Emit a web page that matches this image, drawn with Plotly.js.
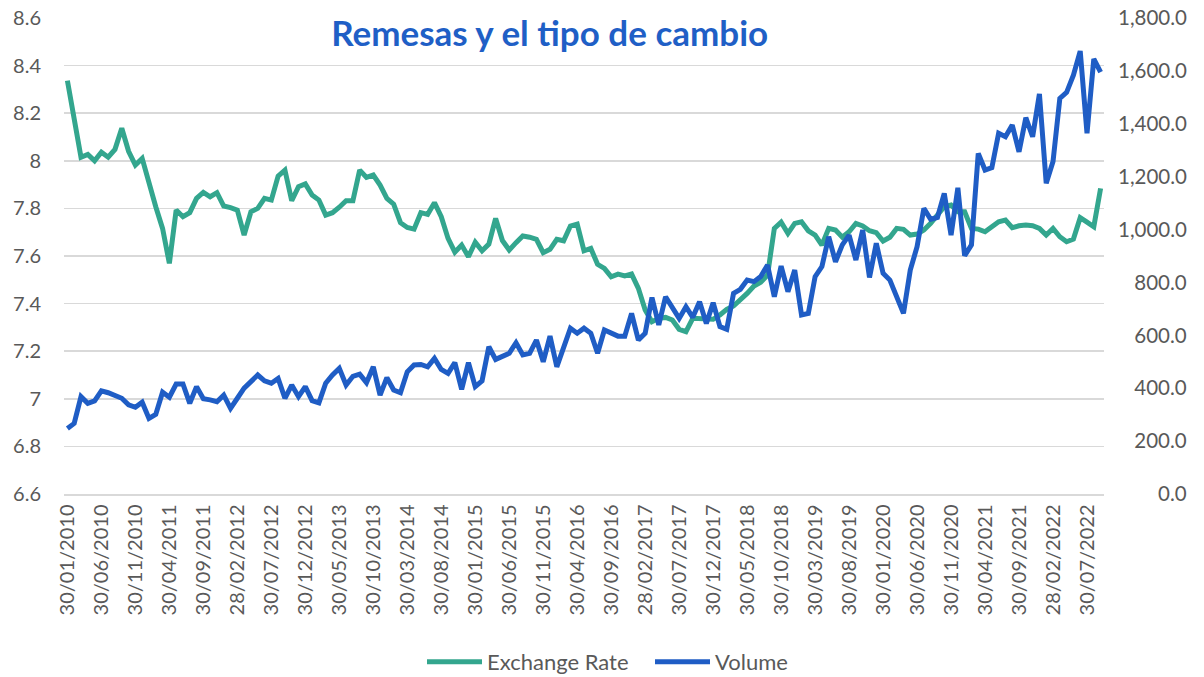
<!DOCTYPE html>
<html>
<head>
<meta charset="utf-8">
<script src="https://cdn.plot.ly/plotly-3.0.1.min.js"></script>
<style>
  html, body { margin: 0; padding: 0; background: #ffffff; }
  #chart { width: 1204px; height: 677px; }
</style>
</head>
<body>
<div id="chart"></div>
<script>
// ---- Data (monthly, 30/01/2010 .. 30/09/2022) ----
const startYear = 2010;
const monthCount = 153;

const exchangeRate = [
  8.337, 8.16, 8.015, 8.027, 8.0, 8.036, 8.015, 8.048, 8.137, 8.04,
  7.982, 8.01, 7.898, 7.807, 7.716, 7.569, 7.793, 7.765, 7.782, 7.842,
  7.867, 7.849, 7.866, 7.81, 7.803, 7.793, 7.688, 7.786, 7.80, 7.842,
  7.835, 7.936, 7.961, 7.832, 7.891, 7.903, 7.856, 7.835, 7.772, 7.782,
  7.805, 7.832, 7.832, 7.961, 7.93, 7.94, 7.898, 7.842, 7.818, 7.74,
  7.72, 7.713, 7.782, 7.775, 7.824, 7.765, 7.674, 7.616, 7.646, 7.597,
  7.658, 7.622, 7.65, 7.758, 7.665, 7.625, 7.656, 7.684, 7.679, 7.67,
  7.614, 7.628, 7.67, 7.664, 7.726, 7.734, 7.622, 7.632, 7.565, 7.548,
  7.513, 7.524, 7.516, 7.524, 7.464, 7.373, 7.324, 7.338, 7.342, 7.331,
  7.292, 7.282, 7.338, 7.338, 7.334, 7.334, 7.352, 7.376, 7.39, 7.415,
  7.443, 7.474, 7.49, 7.52, 7.716, 7.742, 7.695, 7.737, 7.744, 7.706,
  7.688, 7.646, 7.716, 7.709, 7.679, 7.702, 7.737, 7.726, 7.706, 7.698,
  7.663, 7.679, 7.716, 7.712, 7.688, 7.692, 7.709, 7.737, 7.772, 7.807,
  7.814, 7.786, 7.786, 7.716, 7.713, 7.702, 7.723, 7.744, 7.751, 7.719,
  7.727, 7.73, 7.727, 7.716, 7.688, 7.716, 7.681, 7.66, 7.671, 7.761,
  7.742, 7.723, 7.884
];

const volume = [
  248, 267, 368, 343, 352, 390, 383, 374, 362, 337,
  328, 347, 286, 301, 385, 366, 416, 416, 343, 406,
  360, 356, 349, 374, 324, 362, 400, 425, 450, 428,
  419, 437, 362, 412, 368, 406, 353, 345, 419, 450,
  475, 412, 445, 453, 421, 481, 374, 440, 393, 383,
  462, 488, 490, 481, 513, 471, 456, 497, 396, 497,
  406, 428, 557, 509, 522, 532, 572, 526, 532, 582,
  500, 597, 481, 555, 627, 608, 627, 608, 532, 620,
  608, 597, 597, 683, 582, 608, 743, 639, 746, 702,
  664, 708, 668, 727, 645, 723, 633, 623, 759, 774,
  809, 803, 822, 866, 746, 862, 765, 847, 677, 683,
  822, 860, 973, 878, 942, 979, 885, 998, 819, 948,
  835, 809, 746, 683, 847, 935, 1080, 1039, 1046, 1137,
  979, 1158, 901, 942, 1288, 1225, 1234, 1364, 1351, 1395,
  1294, 1423, 1351, 1513, 1175, 1257, 1496, 1519, 1584, 1675,
  1364, 1645, 1595
];

// Category labels: "30/MM/YYYY" (February uses 28)
const categories = [];
for (let k = 0; k < monthCount; k++) {
  const y = startYear + Math.floor(k / 12);
  const m = (k % 12) + 1;
  const d = (m === 2) ? '28' : '30';
  categories.push(d + '/' + String(m).padStart(2, '0') + '/' + y);
}
const tickLabels = categories.filter((c, k) => k % 5 === 0);

const leftTicks = [6.6, 6.8, 7, 7.2, 7.4, 7.6, 7.8, 8, 8.2, 8.4, 8.6];
const rightTicks = [0, 200, 400, 600, 800, 1000, 1200, 1400, 1600, 1800];

// right-aligned right-axis labels via figure/punctuation spaces
const FS = '\u2007', PS = '\u2008';
function fmtRight(v) {
  const s = v.toLocaleString('en-US', {minimumFractionDigits: 1, maximumFractionDigits: 1});
  if (v >= 1000) return s;
  if (v >= 100) return FS + PS + s;
  return FS + PS + FS + FS + s;
}
const rightTickText = rightTicks.map(fmtRight);

const green = '#33a68e';
const blue = '#1f5dc5';
const textGray = '#595959';
const FONT = 'Lato, "Open Sans", sans-serif';

const traces = [
  {
    type: 'scatter', mode: 'lines', name: 'Exchange Rate',
    x: categories, y: exchangeRate,
    line: {color: green, width: 5},
    yaxis: 'y'
  },
  {
    type: 'scatter', mode: 'lines', name: 'Volume',
    x: categories, y: volume,
    line: {color: blue, width: 5},
    yaxis: 'y2'
  }
];

const layout = {
  width: 1204, height: 677,
  paper_bgcolor: '#ffffff', plot_bgcolor: '#ffffff',
  margin: {l: 64, r: 100, t: 18, b: 183, autoexpand: false},
  font: {family: FONT, color: textGray, size: 20},
  title: {
    text: 'Remesas y el tipo de cambio',
    font: {family: FONT, size: 35, color: '#1f5fc6', weight: 'bold'},
    x: 0.467, xanchor: 'center', xref: 'paper',
    y: 1 - 34 / 677, yanchor: 'middle', yref: 'container'
  },
  xaxis: {
    type: 'category',
    range: [-0.5, monthCount - 0.5],
    tickmode: 'array',
    tickvals: tickLabels, ticktext: tickLabels,
    tickangle: -90,
    ticks: '',
    ticklabelstandoff: 1,
    automargin: false,
    showgrid: false,
    showline: true, linecolor: '#d9d9d9', linewidth: 1.5,
    zeroline: false,
    tickfont: {family: FONT, size: 20, color: textGray},
    fixedrange: true
  },
  yaxis: {
    range: [6.6, 8.6],
    tickmode: 'array', tickvals: leftTicks,
    ticks: '',
    ticklabelstandoff: 22,
    automargin: false,
    showgrid: true, gridcolor: '#d9d9d9', gridwidth: 1.5,
    zeroline: false, showline: false,
    tickfont: {family: FONT, size: 20, color: textGray},
    fixedrange: true
  },
  yaxis2: {
    overlaying: 'y', side: 'right',
    range: [0, 1800],
    tickmode: 'array', tickvals: rightTicks, ticktext: rightTickText,
    ticks: '',
    ticklabelstandoff: 13,
    automargin: false,
    showgrid: false, zeroline: false, showline: false,
    tickfont: {family: FONT, size: 20.5, color: textGray},
    fixedrange: true
  },
  showlegend: true,
  legend: {
    orientation: 'h',
    xref: 'container', yref: 'container',
    x: 422 / 1204, xanchor: 'left',
    y: 1 - 662 / 677, yanchor: 'middle',
    font: {family: FONT, size: 22, color: textGray},
    itemwidth: 55,
    entrywidth: 158,
    traceorder: 'normal',
    bgcolor: 'rgba(0,0,0,0)'
  }
};

Plotly.newPlot('chart', traces, layout, {displayModeBar: false, staticPlot: true});
</script>
</body>
</html>
